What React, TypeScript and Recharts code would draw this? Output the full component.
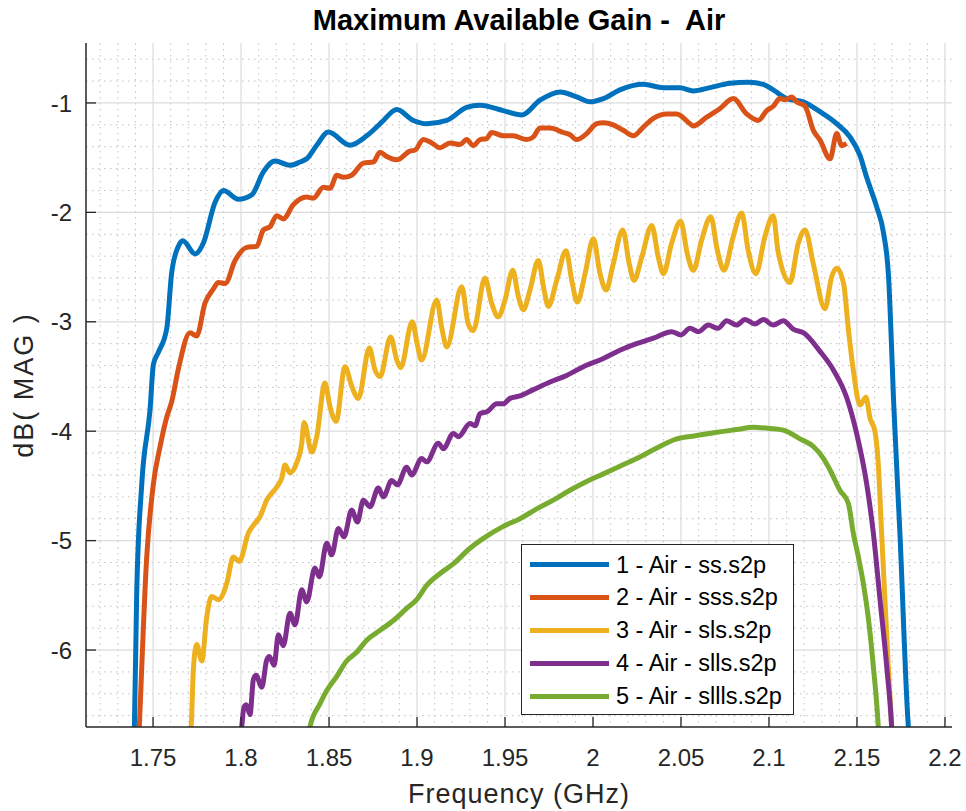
import { CartesianGrid, Line, LineChart, XAxis, YAxis } from "recharts";

// axis limits
const X_MIN = 1.7119;
const X_MAX = 2.204;
const Y_MIN = -6.7035;
const Y_MAX = -0.452;

const xTicks = [1.75, 1.8, 1.85, 1.9, 1.95, 2, 2.05, 2.1, 2.15, 2.2];
const yTicks = [-6, -5, -4, -3, -2, -1];

const seriesNames = [
  "1 - Air - ss.s2p",
  "2 - Air - sss.s2p",
  "3 - Air - sls.s2p",
  "4 - Air - slls.s2p",
  "5 - Air - sllls.s2p",
];
const seriesColors = ["#0072BD", "#D95319", "#EDB120", "#7E2F8E", "#77AC30"];

// 1 - ss.s2p
const ssFreq = [
  1.739, 1.7394, 1.7407, 1.7436, 1.7483, 1.7502, 1.753, 1.7578, 1.7606, 1.7644,
  1.7669, 1.7739, 1.7786, 1.7852, 1.79, 1.7985, 1.8061, 1.8127, 1.8193, 1.8278,
  1.8335, 1.8373, 1.843, 1.8496, 1.8619, 1.8714, 1.879, 1.8809, 1.8885, 1.8979,
  1.9055, 1.9169, 1.9282, 1.9358, 1.949, 1.9595, 1.9699, 1.9813, 1.9907, 1.9983,
  2.0059, 2.0153, 2.0286, 2.04, 2.0494, 2.057, 2.0665, 2.0778, 2.0882, 2.0968,
  2.1024, 2.11, 2.1195, 2.129, 2.1385, 2.146, 2.1517, 2.1555, 2.1612, 2.165,
  2.168, 2.1693, 2.1708, 2.1744, 2.1792, 2.18,
];
const ssGain = [
  -6.85, -6.7, -5.49, -4.48, -3.8, -3.39, -3.28, -3.06, -2.55, -2.31,
  -2.26, -2.38, -2.28, -1.91, -1.8, -1.88, -1.84, -1.63, -1.53, -1.57,
  -1.54, -1.51, -1.386, -1.265, -1.386, -1.3, -1.19, -1.16, -1.06, -1.16,
  -1.19, -1.16, -1.04, -1.02, -1.07, -1.11, -0.975, -0.9, -0.945, -0.99,
  -0.96, -0.88, -0.83, -0.86, -0.86, -0.89, -0.86, -0.82, -0.81, -0.83,
  -0.88, -0.96, -0.99, -1.08, -1.19, -1.31, -1.48, -1.68, -1.95, -2.18,
  -2.6, -3.08, -3.72, -4.93, -6.7, -6.85,
];

// 2 - sss.s2p
const sssFreq = [
  1.7418, 1.7422, 1.7464, 1.7502, 1.754, 1.7578, 1.7606, 1.7644, 1.771, 1.7748,
  1.7795, 1.7843, 1.7871, 1.791, 1.7966, 1.8033, 1.8089, 1.8127, 1.8165, 1.8203,
  1.824, 1.8297, 1.8373, 1.8411, 1.8468, 1.8506, 1.8544, 1.8581, 1.8629, 1.8695,
  1.8752, 1.879, 1.8828, 1.8885, 1.896, 1.8989, 1.9036, 1.9084, 1.9131, 1.9188,
  1.9244, 1.9282, 1.932, 1.9358, 1.9396, 1.9424, 1.949, 1.9547, 1.9623, 1.9661,
  1.9699, 1.9756, 1.9831, 1.9869, 1.9907, 1.9964, 2.0021, 2.0059, 2.0115, 2.0172,
  2.0229, 2.0286, 2.0343, 2.0419, 2.0476, 2.0551, 2.057, 2.0646, 2.0722, 2.0797,
  2.0873, 2.0939, 2.0987, 2.1024, 2.1062, 2.109, 2.1129, 2.1157, 2.1205, 2.1252,
  2.129, 2.1347, 2.1385, 2.1413, 2.1441,
];
const sssGain = [
  -6.85, -6.7, -5.15, -4.48, -4.14, -3.87, -3.73, -3.43, -3.1, -3.13,
  -2.83, -2.7, -2.64, -2.65, -2.44, -2.32, -2.31, -2.16, -2.13, -2.03,
  -2.06, -1.93, -1.86, -1.87, -1.77, -1.78, -1.66, -1.68, -1.66, -1.55,
  -1.54, -1.45, -1.49, -1.52, -1.44, -1.43, -1.335, -1.365, -1.41, -1.365,
  -1.38, -1.335, -1.39, -1.335, -1.325, -1.27, -1.3, -1.3, -1.335, -1.31,
  -1.23, -1.23, -1.27, -1.29, -1.335, -1.28, -1.19, -1.18, -1.2, -1.25,
  -1.3, -1.22, -1.14, -1.1, -1.1, -1.19, -1.21, -1.13, -1.05, -0.96,
  -1.1, -1.16, -1.07, -1.03, -0.96, -0.97, -0.945, -0.99, -1.03, -1.25,
  -1.34, -1.51, -1.28, -1.39, -1.37,
];

// 3 - sls.s2p
const slsFreq = [
  1.767, 1.7715, 1.7729, 1.7748, 1.7777, 1.7805, 1.7833, 1.7871, 1.7919, 1.7956,
  1.799, 1.8042, 1.807, 1.8108, 1.8146, 1.8203, 1.8231, 1.825, 1.8278, 1.8316,
  1.8345, 1.8358, 1.8402, 1.843, 1.8477, 1.8506, 1.854, 1.8591, 1.8629, 1.8667,
  1.8729, 1.8761, 1.879, 1.885, 1.8885, 1.8907, 1.8973, 1.9002, 1.9026, 1.9112,
  1.914, 1.9169, 1.9254, 1.9291, 1.932, 1.9386, 1.9424, 1.9462, 1.95, 1.9544,
  1.9576, 1.9604, 1.9642, 1.9689, 1.9722, 1.9746, 1.9794, 1.9847, 1.9879, 1.9911,
  1.9955, 2.0002, 2.004, 2.0074, 2.0115, 2.0169, 2.0206, 2.0233, 2.0277, 2.0334,
  2.0371, 2.04, 2.0447, 2.0498, 2.0536, 2.057, 2.0618, 2.0669, 2.0707, 2.0744,
  2.0797, 2.0845, 2.0882, 2.0926, 2.0977, 2.1024, 2.1051, 2.1119, 2.1167, 2.1205,
  2.1252, 2.1318, 2.1356, 2.1385, 2.1424, 2.1452, 2.1479, 2.1517, 2.1551, 2.1574,
  2.1602, 2.1621, 2.164, 2.1659, 2.1678, 2.1697, 2.1702,
];
const slsGain = [
  -6.74, -6.72, -6.18, -5.95, -6.1, -5.7, -5.51, -5.54, -5.39, -5.15,
  -5.19, -4.93, -4.86, -4.78, -4.63, -4.51, -4.43, -4.31, -4.38, -4.29,
  -4.11, -3.92, -4.19, -4.05, -3.56, -3.78, -3.91, -3.41, -3.59, -3.7,
  -3.24, -3.44, -3.5, -3.14, -3.35, -3.42, -3.0, -3.21, -3.35, -2.8,
  -3.05, -3.23, -2.68, -3.02, -3.08, -2.6, -2.83, -2.955, -2.8, -2.53,
  -2.77, -2.89, -2.71, -2.44, -2.71, -2.86, -2.62, -2.35, -2.62, -2.82,
  -2.56, -2.24, -2.56, -2.71, -2.47, -2.16, -2.47, -2.62, -2.41, -2.12,
  -2.41, -2.56, -2.28, -2.08, -2.38, -2.53, -2.25, -2.04, -2.35, -2.53,
  -2.22, -2.005, -2.35, -2.56, -2.22, -2.03, -2.35, -2.64, -2.28, -2.16,
  -2.47, -2.88, -2.59, -2.51, -2.65, -3.08, -3.44, -3.76, -3.69, -3.88,
  -4.0, -4.3, -4.93, -5.54, -6.15, -6.7, -6.85,
];

// 4 - slls.s2p
const sllsFreq = [
  1.7998, 1.8004, 1.8017, 1.803, 1.8051, 1.807, 1.8085, 1.8118, 1.8146, 1.8161,
  1.8188, 1.8212, 1.824, 1.8278, 1.8307, 1.8345, 1.8373, 1.842, 1.8445, 1.8487,
  1.8515, 1.8553, 1.8585, 1.8629, 1.8661, 1.8695, 1.8733, 1.878, 1.8809, 1.8856,
  1.8888, 1.8941, 1.897, 1.9026, 1.9055, 1.9121, 1.915, 1.9206, 1.9235, 1.9301,
  1.933, 1.9358, 1.94, 1.9453, 1.949, 1.9528, 1.958, 1.9661, 1.9756, 1.985,
  1.9945, 2.0059, 2.0153, 2.0248, 2.0343, 2.0447, 2.05, 2.0551, 2.06, 2.0655,
  2.071, 2.076, 2.0815, 2.0864, 2.092, 2.0968, 2.1025, 2.1081, 2.114, 2.1195,
  2.129, 2.1366, 2.1441, 2.1498, 2.1555, 2.1593, 2.1631, 2.1669, 2.1697, 2.1702,
];
const sllsGain = [
  -6.8, -6.7, -6.52, -6.5, -6.59, -6.27, -6.23, -6.34, -6.09, -6.06,
  -6.14, -5.86, -5.96, -5.665, -5.77, -5.45, -5.56, -5.25, -5.33, -5.025,
  -5.13, -4.89, -4.965, -4.72, -4.83, -4.63, -4.69, -4.52, -4.6, -4.45,
  -4.49, -4.33, -4.4, -4.25, -4.28, -4.11, -4.16, -4.02, -4.05, -3.93,
  -3.95, -3.84, -3.82, -3.75, -3.75, -3.7, -3.68, -3.62, -3.55, -3.49,
  -3.41, -3.335, -3.26, -3.2, -3.15, -3.09, -3.12, -3.06, -3.09, -3.03,
  -3.06, -2.99, -3.03, -2.98, -3.02, -2.98, -3.03, -2.99, -3.07, -3.1,
  -3.27, -3.44, -3.69, -4.02, -4.48, -4.93, -5.54, -6.15, -6.7, -6.85,
];

// 5 - sllls.s2p
const slllsFreq = [
  1.8385, 1.8392, 1.8449, 1.8487, 1.8544, 1.86, 1.8657, 1.8714, 1.879, 1.8866,
  1.8941, 1.8998, 1.9055, 1.9131, 1.9208, 1.9301, 1.9377, 1.949, 1.9585, 1.968,
  1.9774, 1.9869, 1.9964, 2.0059, 2.0153, 2.0248, 2.0343, 2.0476, 2.0589, 2.0703,
  2.0816, 2.0911, 2.1006, 2.1081, 2.1176, 2.1252, 2.131, 2.1347, 2.1403, 2.1451,
  2.1479, 2.1508, 2.1536, 2.1564, 2.1593, 2.1621, 2.1626,
];
const slllsGain = [
  -6.85, -6.7, -6.49, -6.37, -6.24, -6.1, -6.02, -5.91, -5.82, -5.73,
  -5.62, -5.54, -5.41, -5.3, -5.21, -5.07, -4.98, -4.87, -4.8, -4.71,
  -4.63, -4.54, -4.46, -4.39, -4.32, -4.25, -4.17, -4.07, -4.04, -4.01,
  -3.985, -3.965, -3.975, -3.99, -4.07, -4.14, -4.25, -4.355, -4.54, -4.66,
  -4.93, -5.15, -5.39, -5.7, -6.15, -6.7, -6.85,
];

const toPoints = (freq: number[], gain: number[]) =>
  freq.map((f, i) => ({ f, v: gain[i] }));

const series = [
  toPoints(ssFreq, ssGain),
  toPoints(sssFreq, sssGain),
  toPoints(slsFreq, slsGain),
  toPoints(sllsFreq, sllsGain),
  toPoints(slllsFreq, slllsGain),
];

// plot box in page pixels
const PLOT = { left: 86, top: 43, width: 866, height: 684 };
const INK = "#262626";
const FONT = '"Liberation Sans", Arial, Helvetica, sans-serif';
const LINE_W = 5;

const xPix = (v: number) => PLOT.left + ((v - X_MIN) / (X_MAX - X_MIN)) * PLOT.width;
const yPix = (v: number) => PLOT.top + ((Y_MAX - v) / (Y_MAX - Y_MIN)) * PLOT.height;

const xMinor = Array.from({ length: 49 }, (_, i) => +(1.72 + i * 0.01).toFixed(2)).filter(
  (v) => !xTicks.some((t) => Math.abs(t - v) < 1e-6)
);
const yMinor = Array.from({ length: 31 }, (_, i) => +(-6.6 + i * 0.2).toFixed(1)).filter(
  (v) => !yTicks.some((t) => Math.abs(t - v) < 1e-6)
);

const fmt = (v: number) => String(+v.toFixed(2));

function XTick(props: any) {
  const { x, y, payload } = props;
  return (
    <g>
      <line x1={x} x2={x} y1={y} y2={y - 10} stroke={INK} strokeWidth={1.3} />
      <text x={x} y={y + 39} textAnchor="middle" fontSize={24} fill={INK} fontFamily={FONT}>
        {fmt(payload.value)}
      </text>
    </g>
  );
}

function YTick(props: any) {
  const { x, y, payload } = props;
  return (
    <g>
      <line x1={x} x2={x + 10} y1={y} y2={y} stroke={INK} strokeWidth={1.3} />
      <text x={x - 14} y={y + 8.6} textAnchor="end" fontSize={24} fill={INK} fontFamily={FONT}>
        {fmt(payload.value)}
      </text>
    </g>
  );
}

function MagLegend() {
  return (
    <div
      style={{
        position: "absolute",
        left: 521,
        top: 544,
        width: 273,
        height: 171,
        boxSizing: "border-box",
        border: `1.3px solid ${INK}`,
        background: "#fff",
      }}
    >
      {seriesNames.map((name, i) => (
        <div
          key={name}
          style={{ position: "absolute", left: 0, top: 19.5 + i * 32.9 - 16, height: 32, width: "100%" }}
        >
          <div
            style={{
              position: "absolute",
              left: 8,
              top: 13.5,
              width: 79,
              height: LINE_W,
              background: seriesColors[i],
            }}
          />
          <div
            style={{
              position: "absolute",
              left: 94,
              top: 1,
              fontSize: 23.5,
              lineHeight: "30px",
              color: "#000",
              whiteSpace: "nowrap",
              fontFamily: FONT,
            }}
          >
            {name}
          </div>
        </div>
      ))}
    </div>
  );
}

export default function App() {
  return (
    <div
      style={{
        position: "absolute",
        left: 0,
        top: 0,
        width: 966,
        height: 811,
        background: "#fff",
        fontFamily: FONT,
      }}
    >
      <LineChart
        width={966}
        height={811}
        margin={{ top: PLOT.top, right: 966 - PLOT.left - PLOT.width, bottom: 44, left: PLOT.left - 60 }}
      >
        <CartesianGrid
          stroke="#c0c0c0"
          strokeWidth={1}
          strokeDasharray="1.5 4.5"
          verticalPoints={xMinor.map(xPix)}
          horizontalPoints={yMinor.map(yPix)}
        />
        <CartesianGrid
          stroke="#dcdcdc"
          strokeWidth={1.2}
          verticalPoints={xTicks.map(xPix)}
          horizontalPoints={yTicks.map(yPix)}
        />
        <XAxis
          type="number"
          dataKey="f"
          domain={[X_MIN, X_MAX]}
          allowDataOverflow
          ticks={xTicks}
          interval={0}
          height={40}
          tickSize={0}
          tickMargin={0}
          tickLine={false}
          axisLine={{ stroke: INK, strokeWidth: 1.5 }}
          tick={<XTick />}
        />
        <YAxis
          type="number"
          dataKey="v"
          domain={[Y_MIN, Y_MAX]}
          allowDataOverflow
          ticks={yTicks}
          interval={0}
          width={60}
          tickSize={0}
          tickMargin={0}
          tickLine={false}
          axisLine={{ stroke: INK, strokeWidth: 1.5 }}
          tick={<YTick />}
        />
        {series.map((pts, i) => (
          <Line
            key={seriesNames[i]}
            data={pts}
            dataKey="v"
            name={seriesNames[i]}
            type="monotone"
            stroke={seriesColors[i]}
            strokeWidth={LINE_W}
            strokeLinejoin="round"
            dot={false}
            activeDot={false}
            isAnimationActive={false}
          />
        ))}
      </LineChart>

      <svg
        width={966}
        height={811}
        style={{ position: "absolute", left: 0, top: 0, pointerEvents: "none" }}
      >
        <text
          x={519}
          y={29.5}
          textAnchor="middle"
          fontSize={29}
          fontWeight="bold"
          fill="#000"
          fontFamily={FONT}
          style={{ whiteSpace: "pre" }}
        >
          {"Maximum Available Gain -  Air"}
        </text>
        <text
          x={519}
          y={803}
          textAnchor="middle"
          fontSize={27}
          fill={INK}
          fontFamily={FONT}
          letterSpacing={1}
        >
          Frequency (GHz)
        </text>
        <text
          transform="translate(33 385) rotate(-90)"
          textAnchor="middle"
          fontSize={27}
          fill={INK}
          fontFamily={FONT}
          letterSpacing={2}
          style={{ whiteSpace: "pre" }}
        >
          {"dB( MAG )"}
        </text>
      </svg>

      <MagLegend />
    </div>
  );
}
